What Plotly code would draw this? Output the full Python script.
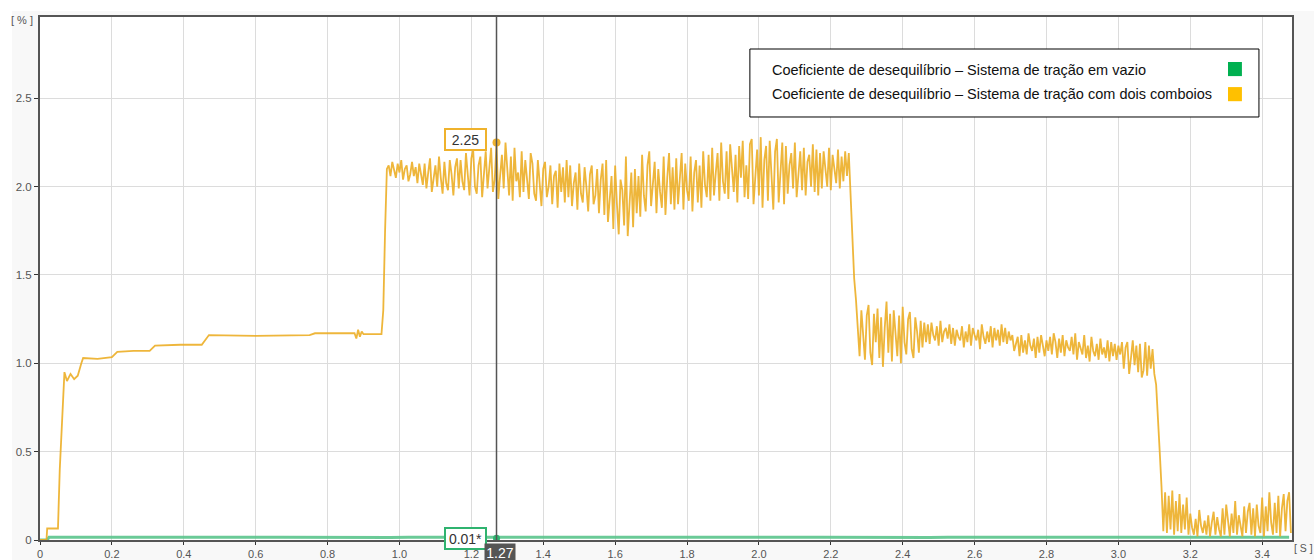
import numpy as np
import plotly.graph_objects as go

# ---------------- data ----------------
series_names = [
    "Coeficiente de desequilíbrio – Sistema de tração em vazio",
    "Coeficiente de desequilíbrio – Sistema de tração com dois comboios",
]

# orange: stepped start (explicit time / value pairs)
orange_step_t = [0, 0.018, 0.02, 0.05, 0.055, 0.06, 0.065, 0.068, 0.075, 0.085, 0.095,
                 0.105, 0.115, 0.12, 0.16, 0.2, 0.215, 0.26, 0.305, 0.32, 0.39, 0.45,
                 0.47, 0.6, 0.75, 0.765, 0.875, 0.88, 0.885, 0.89, 0.895, 0.9, 0.95,
                 0.955, 0.96, 0.965]
orange_step_v = [0, 0, 0.065, 0.065, 0.4, 0.62, 0.85, 0.95, 0.9, 0.94, 0.91,
                 0.93, 1.0, 1.03, 1.025, 1.035, 1.065, 1.07, 1.07, 1.1, 1.105, 1.105,
                 1.16, 1.155, 1.16, 1.17, 1.17, 1.14, 1.19, 1.15, 1.18, 1.165, 1.165,
                 1.3, 1.75, 2.1]

# orange: noisy part, sampled every 0.005 s starting at 0.97 s (20 samples per row = 0.1 s)
orange_noisy_start = 0.97
orange_noisy_step = 0.005
orange_noisy_v = [
    2.12, 2.06, 2.14, 2.09, 2.05, 2.13, 2.08, 2.15, 2.04, 2.1, 2.12, 2.03, 2.07, 2.14, 2.06, 2.11, 2.02, 2.13, 2.08, 2.01,
    2.13, 1.99, 2.08, 2.16, 1.97, 2.04, 2.12, 2.0, 2.17, 2.05, 1.96, 2.14, 2.02, 1.98, 2.15, 2.07, 1.95, 2.11, 2.16, 1.99,
    2.15, 2.03, 1.98, 2.19, 2.08, 1.95, 2.16, 2.21, 2.0, 1.96, 2.12, 2.17, 1.94, 2.06, 2.2, 1.99, 2.1, 2.22, 1.97, 2.04,
    2.24, 1.93, 2.06, 2.18, 1.99, 2.25, 2.1, 1.95, 2.17, 1.92, 2.22, 2.03, 2.08, 1.94, 2.2, 1.97, 2.15, 2.05, 1.93, 2.19,
    2.13, 1.96, 1.92, 2.15, 2.03, 1.89, 2.1, 2.14, 1.94, 2.0, 2.12, 1.9, 2.06, 2.09, 1.88, 2.13, 1.97, 2.11, 1.91, 2.15,
    1.94, 2.12, 1.89, 2.02, 2.08, 1.87, 2.13, 1.96, 1.91, 2.11, 2.0, 1.86, 2.07, 2.12, 1.9, 1.95, 2.1, 1.85, 2.04, 2.13,
    1.84, 2.15, 1.8, 1.95, 2.06, 1.76, 2.12, 1.9, 1.73, 2.04, 1.98, 1.78, 2.17, 1.72, 1.92, 2.08, 1.77, 2.1, 1.85, 2.06,
    1.83, 2.18, 1.95, 1.86, 2.12, 2.2, 1.89, 2.0, 2.14, 1.85, 2.1, 1.97, 1.88, 2.17, 1.84, 2.05, 2.19, 1.9, 2.11, 1.87,
    2.16, 1.9, 2.03, 2.19, 1.87, 2.13, 1.98, 1.92, 2.17, 1.86, 2.08, 2.15, 1.91, 2.12, 1.88, 2.2, 2.01, 1.94, 2.18, 1.92,
    2.22, 1.95, 2.08, 2.19, 1.92, 2.25, 2.03, 1.96, 2.2, 1.93, 2.24, 2.1, 1.97, 2.18, 1.91, 2.23, 2.05, 2.26, 1.94, 2.12,
    1.93, 2.24, 2.27, 1.9, 2.06, 2.21, 1.95, 2.28, 1.88, 2.15, 2.23, 1.92, 2.26, 2.02, 1.87, 2.2, 2.27, 1.91, 2.1, 2.25,
    1.9, 2.23, 1.96, 2.12, 2.19, 1.99, 2.25, 1.94, 2.07, 2.2, 1.98, 2.22, 1.95, 2.14, 2.18, 2.0, 2.24, 1.97, 2.21, 1.95,
    2.19, 1.99, 2.2, 2.08, 2.0, 2.22, 1.98, 2.18, 2.11, 2.02, 2.21, 1.99, 2.17, 2.03, 2.2, 2.06, 2.19, 1.95, 1.72, 1.48,
    1.36, 1.22, 1.04, 1.3, 1.15, 1.02, 1.27, 1.33, 1.06, 0.99, 1.28, 1.12, 1.31, 1.03, 1.26, 0.98, 1.2, 1.35, 1.06, 1.28,
    1.01, 1.3, 1.17, 1.04, 1.27, 1.0, 1.32, 1.12, 1.05, 1.25, 1.29, 1.08, 1.03, 1.26, 1.18, 1.06, 1.24, 1.09, 1.23, 1.12,
    1.22, 1.11, 1.23, 1.16, 1.13, 1.21, 1.1, 1.24, 1.12, 1.18, 1.2, 1.14, 1.22, 1.11, 1.2, 1.1, 1.19, 1.15, 1.13, 1.21,
    1.09, 1.18, 1.12, 1.22, 1.1, 1.2, 1.16, 1.13, 1.19, 1.08, 1.22, 1.15, 1.11, 1.18, 1.12, 1.21, 1.09, 1.2, 1.13, 1.19,
    1.1, 1.22, 1.12, 1.2, 1.11, 1.18, 1.13, 1.16, 1.07, 1.12, 1.15, 1.04, 1.16, 1.06, 1.13, 1.05, 1.17, 1.1, 1.07, 1.14,
    1.03, 1.15, 1.06, 1.16, 1.1, 1.04, 1.13, 1.07, 1.15, 1.05, 1.17, 1.12, 1.03, 1.14, 1.06, 1.16, 1.04, 1.13, 1.09, 1.07,
    1.15, 1.05, 1.17, 1.02, 1.12, 1.08, 1.05, 1.16, 1.03, 1.1, 1.01, 1.15, 1.07, 1.04, 1.11, 1.02, 1.14, 1.05, 1.09, 1.03,
    1.13, 1.01, 1.12, 1.04, 1.11, 1.02, 1.1, 1.05, 1.12, 0.97, 1.09, 1.12, 0.94, 1.03, 1.13, 0.99, 1.1, 0.95, 1.11, 0.92,
    0.96, 1.12, 0.93, 1.1, 0.97, 1.08, 0.94, 0.88, 0.72, 0.5, 0.3, 0.05, 0.27, 0.04, 0.25, 0.06, 0.28, 0.03, 0.22, 0.05,
    0.26, 0.04, 0.2, 0.06, 0.24, 0.03, 0.15, 0.07, 0.03, 0.12, 0.02, 0.17, 0.08, 0.04, 0.11, 0.03, 0.14, 0.02, 0.1, 0.16,
    0.03, 0.13, 0.06, 0.02, 0.18, 0.03, 0.2, 0.09, 0.02, 0.15, 0.04, 0.22, 0.03, 0.14, 0.07, 0.02, 0.19, 0.04, 0.16, 0.21,
    0.03, 0.18, 0.02, 0.2, 0.08, 0.04, 0.24, 0.02, 0.19, 0.05, 0.27, 0.1, 0.03, 0.21, 0.04, 0.25, 0.02, 0.18, 0.26, 0.05,
    0.22, 0.27, 0.04,
]

# green: flat near zero
green_start_t = [0, 0.02]
green_start_v = [0, 0.0]
green_grid_start = 0.025
green_grid_step = 0.05
green_v = [
    0.015, 0.016, 0.014, 0.015, 0.016, 0.015, 0.014, 0.016, 0.015, 0.015,
    0.016, 0.014, 0.015, 0.016, 0.015, 0.014, 0.015, 0.016, 0.015, 0.014,
    0.016, 0.015, 0.015, 0.014, 0.016, 0.015, 0.016, 0.014, 0.015, 0.015,
    0.016, 0.015, 0.014, 0.015, 0.016, 0.015, 0.014, 0.016, 0.015, 0.015,
    0.016, 0.014, 0.015, 0.016, 0.015, 0.014, 0.015, 0.016, 0.015, 0.014,
    0.016, 0.015, 0.015, 0.014, 0.016, 0.015, 0.016, 0.014, 0.015, 0.015,
    0.016, 0.015, 0.014, 0.015, 0.016, 0.015, 0.014, 0.016, 0.015, 0.015,
]

# cursor readout
cursor_t = 1.27
cursor_orange = 2.25
cursor_green = 0.01
cursor_green_label = "0.01*"

x_tickvals = [0, 0.2, 0.4, 0.6, 0.8, 1.0, 1.2, 1.4, 1.6, 1.8, 2.0, 2.2, 2.4, 2.6, 2.8, 3.0, 3.2, 3.4]
x_ticktext = ["0", "0.2", "0.4", "0.6", "0.8", "1.0", "1.2", "1.4", "1.6", "1.8", "2.0",
              "2.2", "2.4", "2.6", "2.8", "3.0", "3.2", "3.4"]
y_tickvals = [0, 0.5, 1.0, 1.5, 2.0, 2.5]
y_ticktext = ["0", "0.5", "1.0", "1.5", "2.0", "2.5"]
x_range = [0, 3.483]
y_range = [0, 2.96]

# ---------------- build ----------------
orange_t = list(orange_step_t) + list(orange_noisy_start + orange_noisy_step * np.arange(len(orange_noisy_v)))
orange_v = list(orange_step_v) + list(orange_noisy_v)
green_t = list(green_start_t) + list(green_grid_start + green_grid_step * np.arange(len(green_v)))
green_vals = list(green_start_v) + list(green_v)

ORANGE_LINE = "rgba(236,172,32,0.88)"
GREEN_LINE = "rgba(90,196,140,0.9)"
FONT = "Liberation Sans, Arial, sans-serif"

fig = go.Figure()
fig.add_trace(go.Scatter(x=green_t, y=green_vals, mode="lines", name=series_names[0],
                         line=dict(color=GREEN_LINE, width=3), showlegend=False))
fig.add_trace(go.Scatter(x=orange_t, y=orange_v, mode="lines", name=series_names[1],
                         line=dict(color=ORANGE_LINE, width=1.8), showlegend=False))
# cursor points
fig.add_trace(go.Scatter(x=[cursor_t], y=[cursor_orange], mode="markers", showlegend=False,
                         marker=dict(color="#efb22c", size=8)))
fig.add_trace(go.Scatter(x=[cursor_t], y=[cursor_green], mode="markers", showlegend=False,
                         marker=dict(color="#2fb36f", size=7)))

shapes = [
    # light gray panel behind the chart
    dict(type="rect", xref="paper", yref="paper", x0=-0.0224, x1=1.02, y0=-0.05, y1=1.0115,
         fillcolor="#f8f8f8", line=dict(width=0), layer="below"),
    # white plotting area
    dict(type="rect", xref="paper", yref="paper", x0=0, x1=1, y0=0, y1=1,
         fillcolor="white", line=dict(width=0), layer="below"),
    # cursor vertical line
    dict(type="line", xref="x", yref="paper", x0=cursor_t, x1=cursor_t, y0=0, y1=1,
         line=dict(color="#555555", width=1.5)),
    # legend box
    dict(type="rect", xref="paper", yref="paper", x0=0.567, x1=0.9736, y0=0.8088, y1=0.9388,
         fillcolor="white", line=dict(color="black", width=1)),
    dict(type="rect", xref="paper", yref="paper", x0=0.9489, x1=0.960, y0=0.887, y1=0.914,
         fillcolor="#00b050", line=dict(width=0)),
    dict(type="rect", xref="paper", yref="paper", x0=0.9489, x1=0.960, y0=0.839, y1=0.866,
         fillcolor="#ffc000", line=dict(width=0)),
]

annotations = [
    dict(xref="paper", yref="paper", x=0.583, y=0.8987, xanchor="left", yanchor="middle",
         text=series_names[0], showarrow=False, font=dict(family=FONT, size=14.5, color="#111")),
    dict(xref="paper", yref="paper", x=0.583, y=0.8528, xanchor="left", yanchor="middle",
         text=series_names[1], showarrow=False, font=dict(family=FONT, size=14.5, color="#111")),
    dict(xref="paper", yref="paper", x=0, y=1, xanchor="right", yanchor="middle", xshift=-5, yshift=-3,
         text="[ % ]", showarrow=False, font=dict(family=FONT, size=11, color="#555")),
    dict(xref="paper", yref="paper", x=1, y=0, xanchor="left", yanchor="middle", xshift=0, yshift=-8,
         text="[ S ]", showarrow=False, font=dict(family=FONT, size=10.5, color="#555")),
    # cursor value boxes
    dict(x=cursor_t, y=cursor_orange, xref="x", yref="y", xanchor="right", yanchor="middle",
         xshift=-10, yshift=3, text=f"{cursor_orange:.2f}", showarrow=False,
         font=dict(family=FONT, size=14, color="#333"), bgcolor="white",
         bordercolor="#efb22c", borderwidth=2, borderpad=1, width=37, height=17),
    dict(x=cursor_t, y=cursor_green, xref="x", yref="y", xanchor="right", yanchor="middle",
         xshift=-10, yshift=0, text=cursor_green_label, showarrow=False,
         font=dict(family=FONT, size=14, color="#333"), bgcolor="white",
         bordercolor="#2fb36f", borderwidth=2, borderpad=1, width=37, height=17),
    dict(x=cursor_t, y=0, xref="x", yref="paper", xanchor="center", yanchor="top",
         xshift=3, yshift=-3, text=f"{cursor_t:.2f}",
         showarrow=False, font=dict(family=FONT, size=14, color="white"),
         bgcolor="#555555", borderpad=0, width=30, height=17),
]

fig.update_layout(
    width=1314, height=560,
    margin=dict(l=40, r=22, t=17, b=20, autoexpand=False),
    paper_bgcolor="white",
    plot_bgcolor="white",
    shapes=shapes,
    annotations=annotations,
    font=dict(family=FONT, size=11, color="#555"),
    showlegend=False,
)
fig.update_xaxes(range=x_range, tickvals=x_tickvals, ticktext=x_ticktext, automargin=False,
                 showgrid=True, gridcolor="#dcdcdc", gridwidth=1,
                 showline=True, linecolor="#555555", linewidth=1.5, mirror=True,
                 ticks="outside", ticklen=3, tickcolor="#333", zeroline=False,
                 tickfont=dict(size=11, color="#555"))
fig.update_yaxes(range=y_range, tickvals=y_tickvals, ticktext=y_ticktext, automargin=False,
                 showgrid=True, gridcolor="#dcdcdc", gridwidth=1,
                 showline=True, linecolor="#555555", linewidth=2, mirror=True,
                 ticks="outside", ticklen=4, tickcolor="#333", zeroline=False,
                 tickfont=dict(size=11.5, color="#555"))

fig.write_html("out.html", config={"displayModeBar": False},
               post_script="document.body.style.margin='0';document.body.style.overflow='hidden';")
